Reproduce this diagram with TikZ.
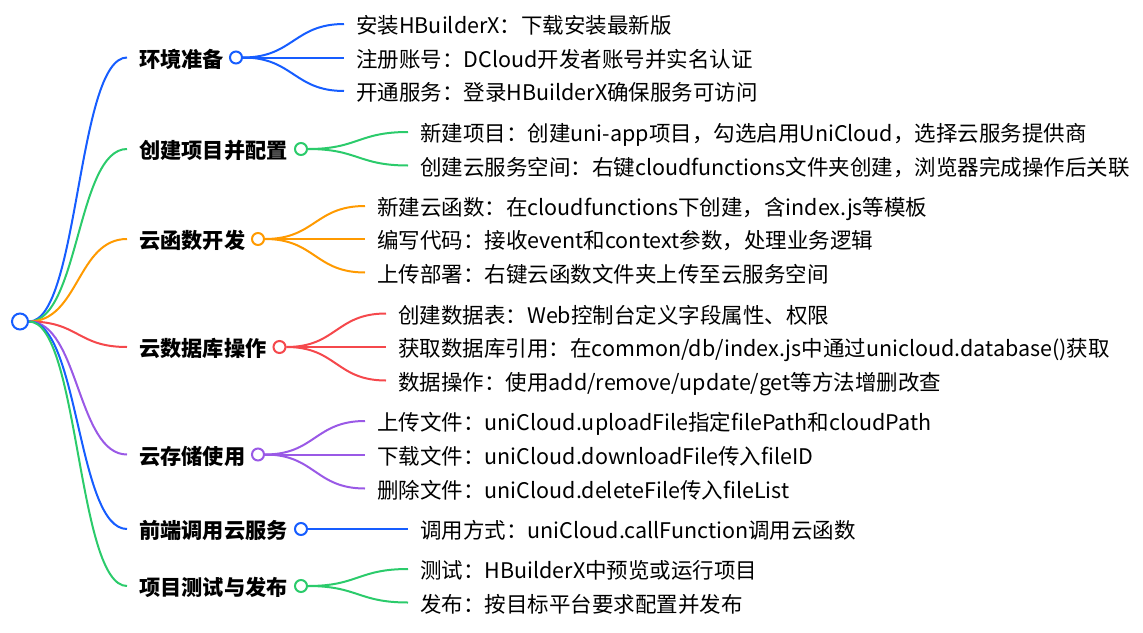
\documentclass[tikz,border=0pt]{standalone}
\usepackage{fontspec}
\setmainfont{Noto Sans CJK SC}
\usetikzlibrary{backgrounds}
\definecolor{cblue}{HTML}{165DFF}
\definecolor{cgreen}{HTML}{2BCB6B}
\definecolor{corange}{HTML}{FF9A00}
\definecolor{cred}{HTML}{F5484C}
\definecolor{cpurple}{HTML}{9A59E6}
\begin{document}
\begin{tikzpicture}[x=1pt,y=-1pt,
  leaf/.style={anchor=base west, inner sep=0pt, font=\fontsize{21.5}{25}\selectfont, text=black},
  btext/.style={anchor=base west, inner sep=0pt, font=\bfseries\fontsize{21.2}{25}\selectfont, text=black},
  dot/.style={circle, draw=#1, fill=white, line width=2pt, minimum size=12pt, inner sep=0pt},
  rootdot/.style={circle, draw=cblue, fill=white, line width=2pt, minimum size=16pt, inner sep=0pt},
  link/.style={draw=#1, line width=2pt}]
\useasboundingbox (0,0) rectangle (1143,632);

% root
\node[rootdot] (root) at (20,321.5) {};

% branch labels, branch circles and line ends
\node[btext] (t1) at (139,67) {环境准备};
\node[dot=cblue] (c1) at (236,57.5) {};
\coordinate (e1) at (127,57.5);

\node[btext] (t2) at (139,158.5) {创建项目并配置};
\node[dot=cgreen] (c2) at (301,149) {};
\coordinate (e2) at (127,149);

\node[btext] (t3) at (139,248.5) {云函数开发};
\node[dot=corange] (c3) at (258,239) {};
\coordinate (e3) at (127,239);

\node[btext] (t4) at (139,356.5) {云数据库操作};
\node[dot=cred] (c4) at (279.5,347) {};
\coordinate (e4) at (127,347);

\node[btext] (t5) at (139,464) {云存储使用};
\node[dot=cpurple] (c5) at (258,454.5) {};
\coordinate (e5) at (127,454.5);

\node[btext] (t6) at (139,538.5) {前端调用云服务};
\node[dot=cblue] (c6) at (301,529) {};
\coordinate (e6) at (127,529);

\node[btext] (t7) at (139,595.5) {项目测试与发布};
\node[dot=cgreen] (c7) at (301,586) {};
\coordinate (e7) at (127,586);

% leaves
\coordinate (l11) at (344,24);   \node[leaf] (n11) at (356,33.5) {安装HBuilderX：下载安装最新版};
\coordinate (l12) at (344,57.5); \node[leaf] (n12) at (356,67) {注册账号：DCloud开发者账号并实名认证};
\coordinate (l13) at (344,91);   \node[leaf] (n13) at (356,100.5) {开通服务：登录HBuilderX确保服务可访问};

\coordinate (l21) at (408,132);   \node[leaf] (n21) at (420,141.5) {新建项目：创建uni-app项目，勾选启用UniCloud，选择云服务提供商};
\coordinate (l22) at (408,165.5); \node[leaf] (n22) at (420,175) {创建云服务空间：右键cloudfunctions文件夹创建，浏览器完成操作后关联};

\coordinate (l31) at (365,206);   \node[leaf] (n31) at (377,215.5) {新建云函数：在cloudfunctions下创建，含index.js等模板};
\coordinate (l32) at (365,239);   \node[leaf] (n32) at (377,248.5) {编写代码：接收event和context参数，处理业务逻辑};
\coordinate (l33) at (365,272.5); \node[leaf] (n33) at (377,282) {上传部署：右键云函数文件夹上传至云服务空间};

\coordinate (l41) at (386,313.5); \node[leaf] (n41) at (398,323) {创建数据表：Web控制台定义字段属性、权限};
\coordinate (l42) at (386,347);   \node[leaf] (n42) at (398,356.5) {获取数据库引用：在common/db/index.js中通过unicloud.database()获取};
\coordinate (l43) at (386,380.5); \node[leaf] (n43) at (398,390) {数据操作：使用add/remove/update/get等方法增删改查};

\coordinate (l51) at (365,421);   \node[leaf] (n51) at (377,430.5) {上传文件：uniCloud.uploadFile指定filePath和cloudPath};
\coordinate (l52) at (365,454.5); \node[leaf] (n52) at (377,464) {下载文件：uniCloud.downloadFile传入fileID};
\coordinate (l53) at (365,488.5); \node[leaf] (n53) at (377,498) {删除文件：uniCloud.deleteFile传入fileList};

\coordinate (l61) at (408,529);   \node[leaf] (n61) at (420,538.5) {调用方式：uniCloud.callFunction调用云函数};

\coordinate (l71) at (408,569);   \node[leaf] (n71) at (420,578.5) {测试：HBuilderX中预览或运行项目};
\coordinate (l72) at (408,602.5); \node[leaf] (n72) at (420,612) {发布：按目标平台要求配置并发布};

\begin{pgfonlayer}{background}
% root to branches
\draw[link=cblue]    (root.east) .. controls +(50,0) and +(-50,0) .. (e1);
\draw[link=cgreen]   (root.east) .. controls +(50,0) and +(-50,0) .. (e2);
\draw[link=corange]  (root.east) .. controls +(50,0) and +(-50,0) .. (e3);
\draw[link=cred]     (root.east) .. controls +(50,0) and +(-50,0) .. (e4);
\draw[link=cpurple]  (root.east) .. controls +(50,0) and +(-50,0) .. (e5);
\draw[link=cblue]    (root.east) .. controls +(50,0) and +(-50,0) .. (e6);
\draw[link=cgreen]   (root.east) .. controls +(50,0) and +(-50,0) .. (e7);
% branches to leaves
\foreach \l in {l11,l12,l13}{\draw[link=cblue] (c1.east) .. controls +(50,0) and +(-50,0) .. (\l);}
\foreach \l in {l21,l22}{\draw[link=cgreen] (c2.east) .. controls +(50,0) and +(-50,0) .. (\l);}
\foreach \l in {l31,l32,l33}{\draw[link=corange] (c3.east) .. controls +(50,0) and +(-50,0) .. (\l);}
\foreach \l in {l41,l42,l43}{\draw[link=cred] (c4.east) .. controls +(50,0) and +(-50,0) .. (\l);}
\foreach \l in {l51,l52,l53}{\draw[link=cpurple] (c5.east) .. controls +(50,0) and +(-50,0) .. (\l);}
\draw[link=cblue] (c6.east) -- (l61);
\foreach \l in {l71,l72}{\draw[link=cgreen] (c7.east) .. controls +(50,0) and +(-50,0) .. (\l);}
\end{pgfonlayer}
\end{tikzpicture}
\end{document}
